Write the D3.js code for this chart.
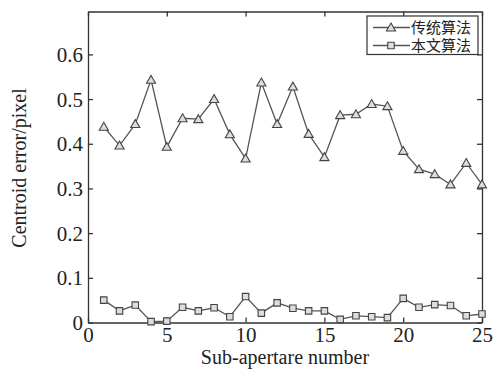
<!DOCTYPE html>
<html>
<head>
<meta charset="utf-8">
<script src="https://cdn.jsdelivr.net/npm/d3@7"></script>
<style>
  body { margin: 0; background: #fff; }
  svg { display: block; }
</style>
</head>
<body>
<div id="chart"></div>
<script>
// values
const subApertures = d3.range(1, 26);
const traditional = [0.438, 0.396, 0.444, 0.543, 0.393, 0.457, 0.455, 0.500, 0.421, 0.367,
                     0.537, 0.444, 0.528, 0.422, 0.370, 0.464, 0.466, 0.489, 0.484, 0.384,
                     0.343, 0.332, 0.309, 0.357, 0.309];
const proposed = [0.050, 0.026, 0.039, 0.002, 0.003, 0.034, 0.026, 0.033, 0.013, 0.058,
                  0.021, 0.044, 0.032, 0.026, 0.026, 0.007, 0.015, 0.013, 0.011, 0.054,
                  0.034, 0.040, 0.038, 0.015, 0.019];
const xTicks = [0, 5, 10, 15, 20, 25];
const yTicks = [0, 0.1, 0.2, 0.3, 0.4, 0.5, 0.6];
const legendNames = ["传统算法", "本文算法"];

const W = 495, H = 369;
const margin = {top: 11.5, right: 13, bottom: 46.5, left: 88};
const width = W - margin.left - margin.right;
const height = H - margin.top - margin.bottom;
const serif = "\"Liberation Serif\", \"Times New Roman\", serif";

const svg = d3.select("#chart").append("svg")
    .attr("width", W).attr("height", H);
const g = svg.append("g")
    .attr("transform", "translate(" + margin.left + "," + margin.top + ")");

const x = d3.scaleLinear().domain([0, 25]).range([0, width]);
const y = d3.scaleLinear().domain([0, 0.696]).range([height, 0]);

const axisColor = "#333";
const fmt = d => d === 0 ? "0" : d3.format(".1f")(d);

// box axes, ticks pointing inward
const xAxis = g.append("g").attr("transform", "translate(0," + height + ")")
    .call(d3.axisBottom(x).tickValues(xTicks).tickSizeInner(-5).tickSizeOuter(0).tickPadding(5).tickFormat(d3.format("d")));
g.append("g")
    .call(d3.axisTop(x).tickValues(xTicks).tickSizeInner(-5).tickSizeOuter(0).tickFormat(""));
const yAxis = g.append("g")
    .call(d3.axisLeft(y).tickValues(yTicks).tickSizeInner(-5).tickSizeOuter(0).tickPadding(5).tickFormat(fmt));
g.append("g").attr("transform", "translate(" + width + ",0)")
    .call(d3.axisRight(y).tickValues(yTicks).tickSizeInner(-5).tickSizeOuter(0).tickFormat(""));
g.selectAll(".domain, .tick line").attr("stroke", axisColor).attr("stroke-width", 1.3);
g.selectAll(".tick text").attr("font-family", null).attr("font-size", null)
    .style("font-family", serif).style("font-size", "21px").attr("fill", "#222");
yAxis.attr("font-family", null);
xAxis.attr("font-family", null);
yAxis.selectAll(".tick text").attr("dy", "0.33em");
xAxis.selectAll(".tick text").attr("dy", "0.68em");

const lineColor = "#555";
const line = d3.line().x((d, i) => x(subApertures[i])).y(d => y(d));

const triangle = d3.symbol().type(d3.symbolTriangle).size(36);
const square = d3.symbol().type(d3.symbolSquare).size(42);

function drawSeries(values, sym) {
  g.append("path").datum(values)
      .attr("fill", "none").attr("stroke", lineColor).attr("stroke-width", 1.3)
      .attr("d", line);
  g.selectAll(null).data(values).enter().append("path")
      .attr("d", sym)
      .attr("transform", (d, i) => "translate(" + x(subApertures[i]) + "," + (y(d) + (sym === triangle ? 0.8 : 0)) + ")")
      .attr("fill", "#ddd").attr("stroke", "#444").attr("stroke-width", 1.1);
}
drawSeries(traditional, triangle);
drawSeries(proposed, square);

// axis titles
svg.append("text")
    .attr("x", margin.left + width / 2).attr("y", 364)
    .attr("text-anchor", "middle")
    .style("font-family", serif).style("font-size", "20px").attr("fill", "#222")
    .text("Sub-apertare number");
svg.append("text")
    .attr("transform", "translate(26,168) rotate(-90)")
    .attr("text-anchor", "middle")
    .style("font-family", serif).style("font-size", "20px").attr("fill", "#222")
    .text("Centroid error/pixel");

// legend
const legend = svg.append("g").attr("transform", "translate(367,16)");
legend.append("rect").attr("width", 111).attr("height", 38.5)
    .attr("fill", "#fff").attr("stroke", axisColor).attr("stroke-width", 1.2);
[triangle, square].forEach((sym, i) => {
  const ly = 11.5 + i * 18;
  legend.append("line").attr("x1", 6).attr("x2", 43).attr("y1", ly).attr("y2", ly)
      .attr("stroke", lineColor).attr("stroke-width", 1.3);
  legend.append("path").attr("d", sym)
      .attr("transform", "translate(24," + (ly + (sym === triangle ? 0.8 : 0)) + ")")
      .attr("fill", "#ddd").attr("stroke", "#444").attr("stroke-width", 1.1);
  legend.append("text").attr("x", 44).attr("y", ly + 5.5)
      .style("font-family", "\"Noto Sans CJK SC\", sans-serif").style("font-size", "15px").attr("fill", "#222")
      .text(legendNames[i]);
});
</script>
</body>
</html>
